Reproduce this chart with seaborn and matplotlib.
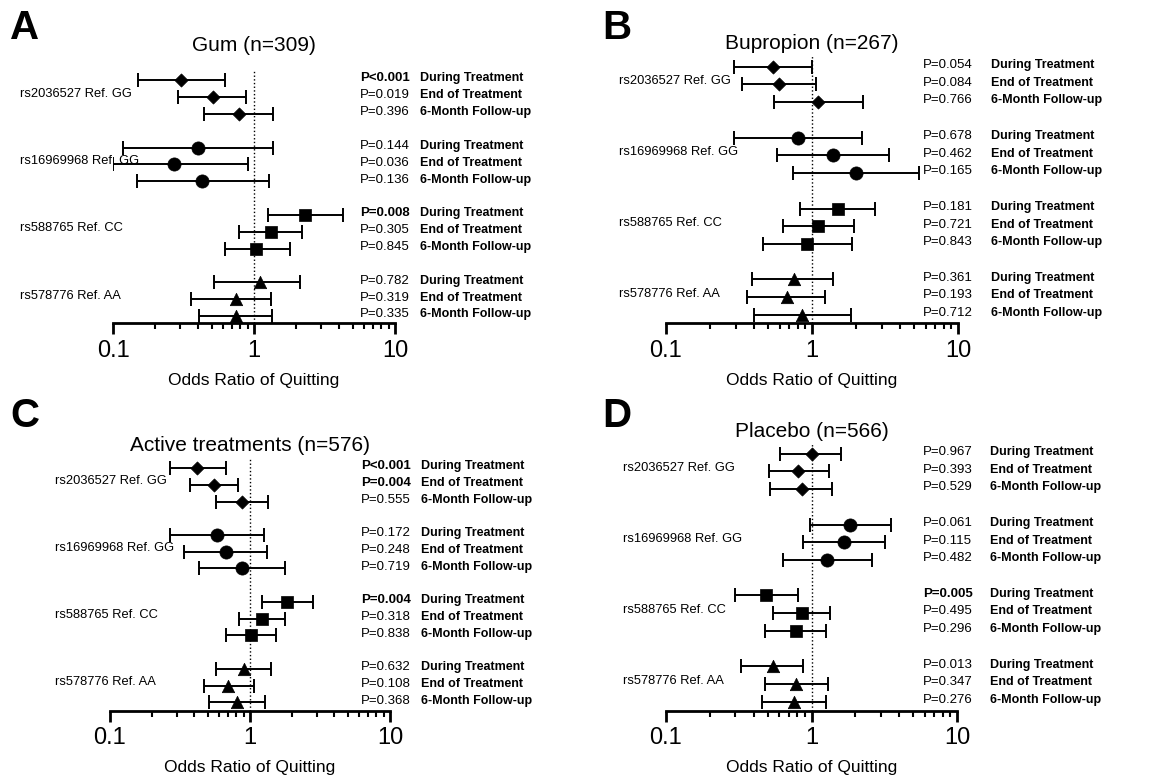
import numpy as np
import pandas as pd
import matplotlib
matplotlib.use('Agg')
import matplotlib.pyplot as plt
import seaborn as sns

snps = ['rs2036527 Ref. GG', 'rs16969968 Ref. GG', 'rs588765 Ref. CC', 'rs578776 Ref. AA']
phases = ['During Treatment', 'End of Treatment', '6-Month Follow-up']

# Gum (n=309)
gum_or = [0.305, 0.51, 0.78, 0.40, 0.27, 0.43, 2.31, 1.31, 1.04, 1.10, 0.74, 0.74]
gum_lo = [0.15, 0.29, 0.44, 0.117, 0.10, 0.149, 1.26, 0.78, 0.62, 0.52, 0.36, 0.41]
gum_hi = [0.62, 0.88, 1.36, 1.36, 0.91, 1.28, 4.28, 2.20, 1.79, 2.13, 1.31, 1.35]
gum_p = ['P<0.001', 'P=0.019', 'P=0.396', 'P=0.144', 'P=0.036', 'P=0.136',
         'P=0.008', 'P=0.305', 'P=0.845', 'P=0.782', 'P=0.319', 'P=0.335']

# Bupropion (n=267)
bup_or = [0.54, 0.59, 1.10, 0.80, 1.39, 2.01, 1.51, 1.10, 0.93, 0.75, 0.67, 0.86]
bup_lo = [0.29, 0.33, 0.55, 0.29, 0.58, 0.74, 0.83, 0.63, 0.46, 0.39, 0.36, 0.40]
bup_hi = [1.00, 1.06, 2.23, 2.21, 3.35, 5.37, 2.71, 1.94, 1.88, 1.39, 1.22, 1.84]
bup_p = ['P=0.054', 'P=0.084', 'P=0.766', 'P=0.678', 'P=0.462', 'P=0.165',
         'P=0.181', 'P=0.721', 'P=0.843', 'P=0.361', 'P=0.193', 'P=0.712']

# Active treatments (n=576)
act_or = [0.42, 0.55, 0.88, 0.58, 0.67, 0.88, 1.85, 1.21, 1.01, 0.90, 0.70, 0.81]
act_lo = [0.27, 0.37, 0.57, 0.27, 0.34, 0.43, 1.22, 0.83, 0.67, 0.57, 0.47, 0.51]
act_hi = [0.67, 0.82, 1.35, 1.26, 1.32, 1.79, 2.83, 1.78, 1.53, 1.41, 1.07, 1.29]
act_p = ['P<0.001', 'P=0.004', 'P=0.555', 'P=0.172', 'P=0.248', 'P=0.719',
         'P=0.004', 'P=0.318', 'P=0.838', 'P=0.632', 'P=0.108', 'P=0.368']

# Placebo (n=566)
pla_or = [1.00, 0.81, 0.86, 1.85, 1.68, 1.28, 0.49, 0.86, 0.78, 0.54, 0.78, 0.76]
pla_lo = [0.61, 0.51, 0.52, 0.97, 0.87, 0.64, 0.30, 0.54, 0.48, 0.33, 0.48, 0.46]
pla_hi = [1.60, 1.31, 1.39, 3.53, 3.18, 2.60, 0.81, 1.34, 1.25, 0.88, 1.29, 1.25]
pla_p = ['P=0.967', 'P=0.393', 'P=0.529', 'P=0.061', 'P=0.115', 'P=0.482',
         'P=0.005', 'P=0.495', 'P=0.296', 'P=0.013', 'P=0.347', 'P=0.276']

sns.set_style('white')
plt.rcParams['font.family'] = ['Liberation Sans', 'DejaVu Sans']
plt.rcParams['text.color'] = 'black'
plt.rcParams['axes.labelcolor'] = 'black'
plt.rcParams['xtick.color'] = 'black'
plt.rcParams['axes.edgecolor'] = 'black'

markers = {snps[0]: 'D', snps[1]: 'o', snps[2]: 's', snps[3]: '^'}
msize = {snps[0]: 45, snps[1]: 90, snps[2]: 85, snps[3]: 80}

fig = plt.figure(figsize=(11.69, 7.77), dpi=100)
W, H = 1169, 777


def is_bold(p):
    if p.startswith('P<'):
        return True
    return float(p.split('=')[1]) < 0.01


def draw_panel(px, title, title_pad, odds, lo, hi, pvals, letter, letter_px,
               snp_x, p_x, lab_x):
    left, top, right, axis_y, ymax = px
    ax = fig.add_axes([left / W, 1 - axis_y / H, (right - left) / W, (axis_y - top) / H])
    rows = [g * 4 + k for g in range(4) for k in range(3)]
    df = pd.DataFrame({'snp': np.repeat(snps, 3), 'phase': phases * 4,
                       'or': odds, 'lo': lo, 'hi': hi, 'row': rows, 'p': pvals})

    ax.errorbar(df['or'], df['row'],
                xerr=[df['or'] - df['lo'], df['hi'] - df['or']],
                fmt='none', ecolor='black', elinewidth=1.4, capsize=5, capthick=1.4, zorder=2)
    for snp in snps:
        sub = df[df['snp'] == snp]
        sns.scatterplot(data=sub, x='or', y='row', marker=markers[snp], s=msize[snp],
                        color='black', edgecolor='black', linewidth=0.5, ax=ax, zorder=3)

    ax.axvline(1, color='black', ls=':', lw=1, zorder=1)
    ax.set_xscale('log')
    ax.set_xlim(0.1, 10)
    ax.set_ylim(ymax, -0.6)
    ax.set_xticks([0.1, 1, 10])
    ax.set_xticklabels(['0.1', '1', '10'], fontsize=17)
    ax.set_yticks([])
    ax.set_ylabel('')
    ax.set_xlabel('Odds Ratio of Quitting', fontsize=12.5, labelpad=8)
    ax.set_title(title, fontsize=15, pad=title_pad)
    for s in ['top', 'left', 'right']:
        ax.spines[s].set_visible(False)
    ax.spines['bottom'].set_linewidth(2)
    ax.tick_params(axis='x', which='major', direction='out', length=8, width=2, bottom=True, pad=4)
    ax.tick_params(axis='x', which='minor', direction='out', length=4, width=1.5, bottom=True)

    tr = ax.get_yaxis_transform()
    for g, snp in enumerate(snps):
        ax.text(snp_x, g * 4 + 1 - 0.2, snp, transform=tr, fontsize=9.3,
                ha='left', va='center', clip_on=False)
    for i, row in df.iterrows():
        ax.text(p_x, row['row'] - 0.1, row['p'], transform=tr, fontsize=9.5,
                fontweight='bold' if is_bold(row['p']) else 'normal',
                ha='left', va='center', clip_on=False)
        ax.text(lab_x, row['row'] - 0.1, row['phase'], transform=tr, fontsize=9,
                fontweight='bold', ha='left', va='center', clip_on=False)

    fig.text(letter_px[0] / W, 1 - letter_px[1] / H, letter, fontsize=29,
             fontweight='bold', ha='left', va='top')
    return ax


draw_panel((113, 70, 395, 323.3, 14.43), 'Gum (n=309)', 14,
           gum_or, gum_lo, gum_hi, gum_p, 'A', (10, 9), -0.33, 0.876, 1.089)
draw_panel((666, 56, 958, 323.3, 14.47), 'Bupropion (n=267)', 5,
           bup_or, bup_lo, bup_hi, bup_p, 'B', (602, 9), -0.161, 0.88, 1.113)
draw_panel((110, 458, 390, 710.7, 14.5), 'Active treatments (n=576)', 5,
           act_or, act_lo, act_hi, act_p, 'C', (10, 397), -0.196, 0.896, 1.11)
draw_panel((666, 443, 957, 710.7, 14.5), 'Placebo (n=566)', 4,
           pla_or, pla_lo, pla_hi, pla_p, 'D', (602, 397), -0.148, 0.883, 1.113)

fig.savefig('out.png', dpi=100, facecolor='white')
